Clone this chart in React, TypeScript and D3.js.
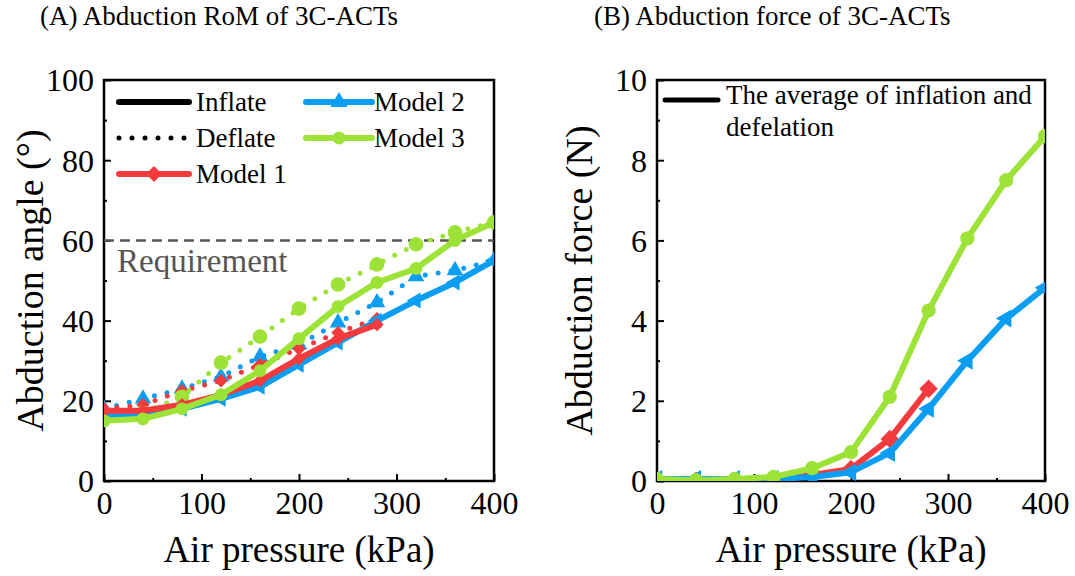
import React, { useEffect, useRef } from 'react';
import * as d3 from 'd3';

// pressure steps (kPa)
const pressure = [0, 40, 80, 120, 160, 200, 240, 280, 320, 360, 400];
const pressureModel1 = [0, 40, 80, 120, 160, 200, 240, 280];

// (A) abduction angle, degrees
const m1Inflate = [17.5, 17.5, 19, 21.5, 25, 30.5, 35.5, 39];
const m1Deflate = [18, 19, 22.5, 25, 29, 33, 37, 40.5];
const m2Inflate = [16.5, 16.5, 18, 20.5, 23.5, 29, 34.5, 40, 45, 49.5, 55];
const m2Deflate = [18, 20.5, 23, 26, 31, 34, 39.5, 44.5, 51, 52.5, 55];
const m3Inflate = [15, 15.5, 18, 21.5, 27.5, 35.5, 43.5, 49.5, 53, 60, 64.5];
const m3Deflate = [15.5, 17, 21, 29.5, 36, 43, 49, 54, 59, 62, 64.5];
const requirement = 60;

// (B) abduction force, N (average of inflation and deflation)
const forceM1 = [0, 0, 0, 0, 0.15, 0.3, 1.05, 2.3];
const forceM2 = [0.05, 0.05, 0.05, 0.05, 0.1, 0.22, 0.7, 1.8, 3.0, 4.05, 4.82];
const forceM3 = [0.05, 0.02, 0.05, 0.1, 0.32, 0.72, 2.1, 4.25, 6.05, 7.5, 8.6];

const angleTicks = [0, 20, 40, 60, 80, 100];
const forceTicks = [0, 2, 4, 6, 8, 10];
const pressureTicks = [0, 100, 200, 300, 400];

const RED = '#F33B3E';
const BLUE = '#0B9DF2';
const GREEN = '#9DE236';
const FONT = '"Liberation Serif", "Times New Roman", "DejaVu Serif", serif';

type Marker = 'diamond' | 'tri' | 'triLeft' | 'circle';

function markerPath(kind: Marker, size: number) {
  if (kind === 'diamond') return d3.symbol(d3.symbolSquare, size)();
  if (kind === 'circle') return d3.symbol(d3.symbolCircle, size)();
  return d3.symbol(d3.symbolTriangle, size)();
}
function markerRotate(kind: Marker) {
  if (kind === 'diamond') return 45;
  if (kind === 'triLeft') return -90;
  return 0;
}

function App() {
  const ref = useRef<SVGSVGElement>(null);

  useEffect(() => {
    const svg = d3.select(ref.current);
    svg.selectAll('*').remove();

    const drawFrame = (g: any, x: any, y: any, yTicks: number[], yMinor: number[], id: string) => {
      const [x0, x1] = x.range();
      const [y0, y1] = y.range();

      g.append('clipPath').attr('id', id)
        .append('rect').attr('x', x0).attr('y', y1).attr('width', x1 - x0).attr('height', y0 - y1);

      // minor ticks
      g.append('g').attr('transform', `translate(0,${y0})`)
        .call(d3.axisBottom(x).tickValues([50, 150, 250, 350]).tickSize(-3).tickFormat(() => ''))
        .call((a: any) => a.select('.domain').remove())
        .selectAll('line').attr('stroke-width', 2);
      g.append('g').attr('transform', `translate(${x0},0)`)
        .call(d3.axisLeft(y).tickValues(yMinor).tickSize(-3).tickFormat(() => ''))
        .call((a: any) => a.select('.domain').remove())
        .selectAll('line').attr('stroke-width', 2);

      // major ticks + labels
      const xa = g.append('g').attr('transform', `translate(0,${y0})`)
        .call(d3.axisBottom(x).tickValues(pressureTicks).tickSize(-7).tickPadding(10));
      xa.select('.domain').remove();
      xa.selectAll('line').attr('stroke-width', 2);
      xa.selectAll('text').attr('font-family', FONT).attr('font-size', 32).attr('fill', '#000').attr('dy', '0.72em');

      const ya = g.append('g').attr('transform', `translate(${x0},0)`)
        .call(d3.axisLeft(y).tickValues(yTicks).tickSize(-7).tickPadding(10));
      ya.select('.domain').remove();
      ya.selectAll('line').attr('stroke-width', 2);
      ya.selectAll('text').attr('font-family', FONT).attr('font-size', 32).attr('fill', '#000').attr('dy', '0.34em');

      g.append('rect').attr('x', x0).attr('y', y1).attr('width', x1 - x0).attr('height', y0 - y1)
        .attr('fill', 'none').attr('stroke', '#000').attr('stroke-width', 2.5);

      g.append('text').attr('x', (x0 + x1) / 2).attr('y', 562).attr('text-anchor', 'middle')
        .attr('font-family', FONT).attr('font-size', 37).text('Air pressure (kPa)');
    };

    const drawSeries = (g: any, x: any, y: any, xs: number[], ys: number[], color: string,
                        marker: Marker, dotted: boolean, mSize: number, clip: string) => {
      const pts = xs.map((p, i) => [x(p), y(ys[i])] as [number, number]);
      const layer = g.append('g').attr('clip-path', `url(#${clip})`);
      layer.append('path').attr('d', d3.line()(pts)).attr('fill', 'none').attr('stroke', color)
        .attr('stroke-width', dotted ? 5 : 6)
        .attr('stroke-linecap', 'round').attr('stroke-linejoin', 'round')
        .attr('stroke-dasharray', dotted ? '0 13' : null);
      layer.selectAll('.m').data(pts).join('path')
        .attr('d', markerPath(marker, mSize))
        .attr('transform', (d: [number, number]) => `translate(${d[0]},${d[1]}) rotate(${markerRotate(marker)})`)
        .attr('fill', color);
    };

    // ---------- panel A ----------
    const gA = svg.append('g');
    const xA = d3.scaleLinear().domain([0, 400]).range([104, 494]);
    const yA = d3.scaleLinear().domain([0, 100]).range([481, 80]);
    drawFrame(gA, xA, yA, angleTicks, [10, 30, 50, 70, 90], 'clipA');

    gA.append('line').attr('x1', xA(0)).attr('x2', xA(400)).attr('y1', yA(requirement)).attr('y2', yA(requirement))
      .attr('stroke', '#555').attr('stroke-width', 2.5).attr('stroke-dasharray', '10 6');
    gA.append('text').attr('x', 117).attr('y', 272).attr('font-family', FONT).attr('font-size', 33)
      .attr('fill', '#555').text('Requirement');

    drawSeries(gA, xA, yA, pressure, m2Deflate, BLUE, 'tri', true, 120, 'clipA');
    drawSeries(gA, xA, yA, pressureModel1, m1Deflate, RED, 'diamond', true, 90, 'clipA');
    drawSeries(gA, xA, yA, pressure, m3Deflate, GREEN, 'circle', true, 170, 'clipA');
    drawSeries(gA, xA, yA, pressure, m2Inflate, BLUE, 'triLeft', false, 110, 'clipA');
    drawSeries(gA, xA, yA, pressureModel1, m1Inflate, RED, 'diamond', false, 90, 'clipA');
    drawSeries(gA, xA, yA, pressure, m3Inflate, GREEN, 'circle', false, 130, 'clipA');

    gA.append('text').attr('transform', `translate(43,${(80 + 481) / 2}) rotate(-90)`)
      .attr('text-anchor', 'middle').attr('font-family', FONT).attr('font-size', 38).text('Abduction angle (°)');
    gA.append('text').attr('x', 40).attr('y', 25).attr('font-family', FONT).attr('font-size', 27)
      .text('(A) Abduction RoM of 3C-ACTs');

    // legend A
    const legendA: { label: string; color: string; marker: Marker | null; dotted: boolean; x: number; y: number }[] = [
      { label: 'Inflate', color: '#000', marker: null, dotted: false, x: 119, y: 102 },
      { label: 'Deflate', color: '#000', marker: null, dotted: true, x: 119, y: 138 },
      { label: 'Model 1', color: RED, marker: 'diamond', dotted: false, x: 119, y: 174 },
      { label: 'Model 2', color: BLUE, marker: 'tri', dotted: false, x: 306, y: 102 },
      { label: 'Model 3', color: GREEN, marker: 'circle', dotted: false, x: 306, y: 138 },
    ];
    legendA.forEach((d) => {
      const len = d.x < 200 ? 70 : 66;
      gA.append('line').attr('x1', d.x).attr('x2', d.x + len).attr('y1', d.y).attr('y2', d.y)
        .attr('stroke', d.color).attr('stroke-width', d.dotted ? 5 : 6).attr('stroke-linecap', 'round')
        .attr('stroke-dasharray', d.dotted ? '0 13' : null);
      if (d.marker) {
        gA.append('path').attr('d', markerPath(d.marker, d.marker === 'circle' ? 130 : 130))
          .attr('transform', `translate(${d.x + len / 2},${d.y}) rotate(${markerRotate(d.marker)})`)
          .attr('fill', d.color);
      }
      gA.append('text').attr('x', d.x < 200 ? 196 : 374).attr('y', d.y + 9)
        .attr('font-family', FONT).attr('font-size', 27).text(d.label);
    });

    // ---------- panel B ----------
    const gB = svg.append('g');
    const xB = d3.scaleLinear().domain([0, 400]).range([657, 1045]);
    const yB = d3.scaleLinear().domain([0, 10]).range([481, 80]);
    drawFrame(gB, xB, yB, forceTicks, [1, 3, 5, 7, 9], 'clipB');

    drawSeries(gB, xB, yB, pressureModel1, forceM1, RED, 'diamond', false, 170, 'clipB');
    drawSeries(gB, xB, yB, pressure, forceM2, BLUE, 'triLeft', false, 140, 'clipB');
    drawSeries(gB, xB, yB, pressure, forceM3, GREEN, 'circle', false, 160, 'clipB');

    gB.append('text').attr('transform', `translate(592,${(80 + 481) / 2}) rotate(-90)`)
      .attr('text-anchor', 'middle').attr('font-family', FONT).attr('font-size', 38).text('Abduction force (N)');
    gB.append('text').attr('x', 594).attr('y', 25).attr('font-family', FONT).attr('font-size', 27)
      .text('(B) Abduction force of 3C-ACTs');

    gB.append('line').attr('x1', 665).attr('x2', 718).attr('y1', 100).attr('y2', 100)
      .attr('stroke', '#000').attr('stroke-width', 5).attr('stroke-linecap', 'round');
    const lt = gB.append('text').attr('font-family', FONT).attr('font-size', 27);
    lt.append('tspan').attr('x', 726).attr('y', 104).text('The average of inflation and');
    lt.append('tspan').attr('x', 726).attr('y', 136).text('defelation');
  }, []);

  return (
    <svg ref={ref} width={1075} height={576}
      style={{ position: 'absolute', left: 0, top: 0, background: '#fff' }} />
  );
}

export default App;
